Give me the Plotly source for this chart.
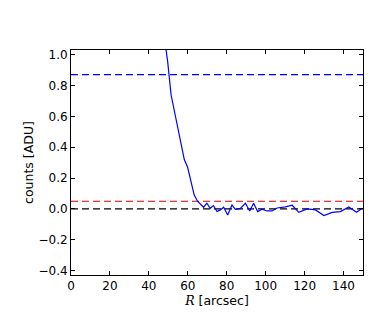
import plotly.graph_objects as go

# ── DATA ──────────────────────────────────────────────────────────────────
r_arcsec = [48.0, 49.7, 51.4, 53.1, 54.8, 56.5, 58.2, 59.9, 61.6, 63.3, 65.0,
            66.4, 68.1, 69.8, 71.5, 73.2, 75.0, 76.7, 78.4, 80.5, 82.7, 84.4,
            87.0, 89.6, 91.8, 93.8, 95.9, 98.1, 100.7, 103.3, 105.9, 110.1,
            113.6, 117.0, 121.3, 125.6, 129.9, 134.2, 138.4, 142.7, 146.7, 149.6]
counts = [1.11, 0.95, 0.74, 0.64, 0.54, 0.43, 0.32, 0.27, 0.18, 0.09, 0.05,
          0.030, 0.011, 0.037, 0.004, 0.022, -0.017, -0.006, 0.011, -0.039, 0.026, -0.002,
          0.004, 0.037, -0.013, 0.037, -0.017, -0.002, -0.013, -0.013, 0.006, 0.013,
          0.024, -0.022, 0.0, -0.006, -0.043, -0.022, -0.017, 0.013, -0.022, 0.004]

# horizontal reference levels: value, colour
ref_levels = [0.87, 0.05, 0.0]
ref_colors = ["#0000ff", "#d80000", "#000000"]

x_ticks = [0, 20, 40, 60, 80, 100, 120, 140]
y_ticks = [1.0, 0.8, 0.6, 0.4, 0.2, 0.0, -0.2, -0.4]
y_ticktext = ["1.0", "0.8", "0.6", "0.4", "0.2", "0.0", "\u22120.2", "\u22120.4"]

X_RANGE = [0, 150]
Y_RANGE = [-0.428, 1.03]

fig = go.Figure()

# ── REFERENCE LINES ───────────────────────────────────────────────────────
for level, colour in zip(ref_levels, ref_colors):
    fig.add_trace(go.Scatter(
        x=X_RANGE, y=[level, level],
        mode="lines",
        line=dict(color=colour, width=1.2, dash="7px,4px"),
        showlegend=False, hoverinfo="skip",
    ))

# ── PROFILE ───────────────────────────────────────────────────────────────
fig.add_trace(go.Scatter(
    x=r_arcsec, y=counts,
    mode="lines",
    line=dict(color="#0000ff", width=1.2),
    showlegend=False,
))

axis_common = dict(
    showline=True, linecolor="black", linewidth=1, mirror="ticks",
    ticks="inside", ticklen=4, tickcolor="black", tickwidth=1,
    showgrid=False, zeroline=False,
    tickfont=dict(size=12, color="black"),
)

# page body adds an 8px offset, so the figure is shrunk by that much
fig.update_layout(
    width=382, height=317,
    margin=dict(l=63, r=27, t=42, b=50),
    plot_bgcolor="white", paper_bgcolor="white",
    font=dict(family="DejaVu Sans", size=12, color="black"),
    xaxis=dict(
        range=X_RANGE, tickvals=x_ticks,
        title=dict(text="<span style=\"font-family:'DejaVu Serif'\"><i>R</i></span> [arcsec]",
                   font=dict(size=12.5), standoff=3),
        **axis_common,
    ),
    yaxis=dict(
        range=Y_RANGE, tickvals=y_ticks, ticktext=y_ticktext,
        title=dict(text="counts [ADU]", font=dict(size=12.5), standoff=2),
        **axis_common,
    ),
)

fig.write_html("out.html")
